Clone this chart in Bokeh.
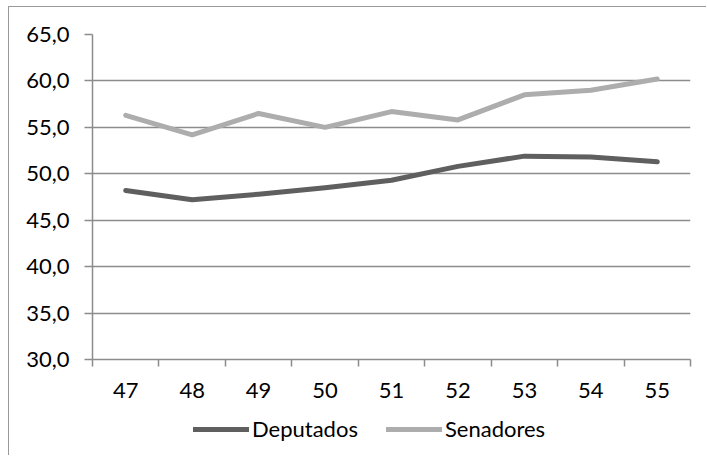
from bokeh.plotting import figure
from bokeh.models import FixedTicker, Legend, LegendItem, ColumnDataSource, Spacer
from bokeh.layouts import column, row
from bokeh.embed import file_html
from bokeh.resources import INLINE

categories = ["47", "48", "49", "50", "51", "52", "53", "54", "55"]
deputados = [48.2, 47.2, 47.8, 48.5, 49.3, 50.8, 51.9, 51.8, 51.3]
senadores = [56.3, 54.2, 56.5, 55.0, 56.7, 55.8, 58.5, 59.0, 60.2]
series_names = ["Deputados", "Senadores"]
y_ticks = [30, 35, 40, 45, 50, 55, 60, 65]
y_tick_labels = ["30,0", "35,0", "40,0", "45,0", "50,0", "55,0", "60,0", "65,0"]

FONT = "Lato"
FS = "22px"
GRID = "#8c8c8c"
C_DEP = "#5f5f5f"
C_SEN = "#adadad"
BORDER = "1.5px solid #999999"

xpos = [i + 0.5 for i in range(len(categories))]
src = ColumnDataSource(dict(x=xpos, dep=deputados, sen=senadores))

p = figure(width=698, height=408, output_backend="svg", toolbar_location=None,
           x_range=(0, len(categories)), y_range=(y_ticks[0], y_ticks[-1]),
           min_border_left=83, min_border_right=17, min_border_top=27, min_border_bottom=56)
p.outline_line_color = None
p.background_fill_color = "white"
p.border_fill_color = "white"
p.styles = {"border-left": BORDER, "border-top": BORDER}

# x axis
p.xaxis.ticker = FixedTicker(ticks=xpos, minor_ticks=list(range(len(categories) + 1)))
p.xaxis.major_label_overrides = {x: c for x, c in zip(xpos, categories)}
p.xaxis.major_tick_out = 0
p.xaxis.major_tick_in = 0
p.xaxis.minor_tick_out = 7
p.xaxis.minor_tick_in = 0
p.xaxis.minor_tick_line_color = GRID
p.xaxis.minor_tick_line_width = 1.5
p.xaxis.axis_line_color = GRID
p.xaxis.axis_line_width = 1.5
p.xaxis.major_label_standoff = 16
p.xaxis.major_label_text_font = FONT
p.xaxis.major_label_text_font_size = FS
p.xaxis.major_label_text_color = "#000000"
p.xgrid.grid_line_color = None

# y axis
p.yaxis.ticker = FixedTicker(ticks=y_ticks)
p.yaxis.major_label_overrides = {t: l for t, l in zip(y_ticks, y_tick_labels)}
p.yaxis.major_tick_out = 8
p.yaxis.major_tick_in = 0
p.yaxis.major_tick_line_color = GRID
p.yaxis.major_tick_line_width = 1.5
p.yaxis.minor_tick_line_color = None
p.yaxis.axis_line_color = GRID
p.yaxis.axis_line_width = 1.5
p.yaxis.major_label_standoff = 15
p.yaxis.major_label_text_font = FONT
p.yaxis.major_label_text_font_size = FS
p.yaxis.major_label_text_color = "#000000"
p.ygrid.grid_line_color = GRID
p.ygrid.grid_line_width = 1.5

p.line("x", "dep", source=src, line_color=C_DEP, line_width=5,
       line_join="round", line_cap="round")
p.line("x", "sen", source=src, line_color=C_SEN, line_width=5,
       line_join="round", line_cap="round")

# legend strip below the chart (its frame is aligned with the chart's frame)
lg = figure(width=698, height=41, output_backend="svg", toolbar_location=None,
            x_axis_type=None, y_axis_type=None, x_range=(0, 1), y_range=(0, 1),
            min_border_left=0, min_border_right=0, min_border_top=0, min_border_bottom=0)
lg.outline_line_color = None
lg.background_fill_color = "white"
lg.border_fill_color = "white"
lg.styles = {"border-left": BORDER}
lg.grid.visible = False
# same series, outside this strip's visible ranges: only their legend glyphs show
l_dep = lg.line("x", "dep", source=src, line_color=C_DEP, line_width=5, line_cap="round")
l_sen = lg.line("x", "sen", source=src, line_color=C_SEN, line_width=5, line_cap="round")
legend = Legend(items=[LegendItem(label=series_names[0], renderers=[l_dep]),
                       LegendItem(label=series_names[1], renderers=[l_sen])],
                orientation="horizontal", location=(101, 13),
                glyph_width=56, glyph_height=20, label_standoff=3, spacing=28,
                padding=0, margin=0, border_line_color=None,
                background_fill_alpha=0,
                label_text_font=FONT, label_text_font_size=FS,
                label_text_color="#000000")
lg.add_layout(legend, "center")

layout = column(Spacer(height=6), row(Spacer(width=8), column(p, lg)))

open("out.html", "w").write(file_html(layout, INLINE))
